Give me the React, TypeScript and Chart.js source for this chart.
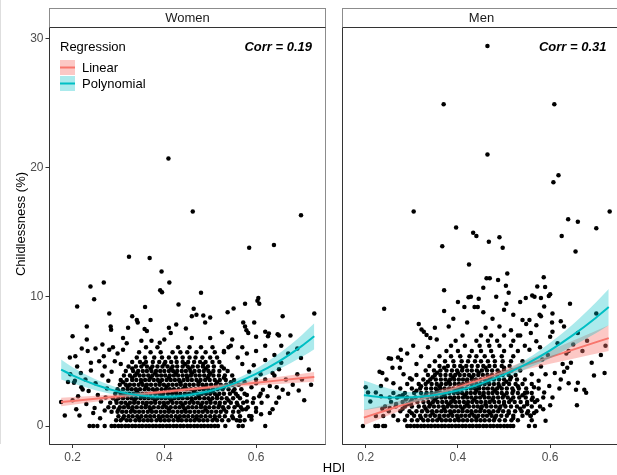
import React, { useEffect, useRef } from "react";
import { Chart, registerables } from "chart.js";
Chart.register(...registerables);

const FONT = "'Liberation Sans', Arial, Helvetica, sans-serif";

// ---------- axes ----------
const xTicks = [0.2, 0.4, 0.6];
const yTicks = [0, 10, 20, 30];
const xRange = [0.1475, 0.7525];
const yRange = [-1.47, 30.87];

// ---------- Women ----------
const womenScatter: [number, number][] = [
  [0.409, 20.7], [0.462, 16.6], [0.698, 16.3], [0.585, 13.8], [0.639, 14.0], [0.323, 13.1], [0.368, 13.0],
  [0.394, 11.95], [0.411, 11.1], [0.239, 10.8], [0.268, 11.1], [0.391, 10.5], [0.395, 10.35], [0.48, 10.3],
  [0.247, 9.8], [0.605, 9.9], [0.603, 9.7], [0.607, 9.45], [0.21, 9.25], [0.431, 9.4], [0.464, 9.07],
  [0.358, 9.2], [0.551, 9.1], [0.576, 9.45], [0.658, 8.5], [0.727, 8.7], [0.28, 8.7], [0.33, 8.5],
  [0.34, 8.2], [0.342, 8.0], [0.37, 8.2], [0.46, 8.5], [0.47, 8.6], [0.485, 8.55], [0.5, 8.4], [0.538, 8.8],
  [0.426, 7.85], [0.489, 8.0], [0.231, 7.7], [0.283, 7.7], [0.284, 7.45], [0.321, 7.6], [0.357, 7.5],
  [0.362, 7.35], [0.41, 7.6], [0.414, 7.2], [0.447, 7.55], [0.526, 7.25], [0.548, 6.7], [0.572, 8.0],
  [0.576, 7.7], [0.579, 7.4], [0.596, 8.0], [0.583, 7.2], [0.6, 6.9], [0.62, 7.3], [0.628, 7.15],
  [0.626, 6.95], [0.2, 6.94], [0.231, 6.7], [0.265, 6.3], [0.233, 5.8], [0.31, 6.8], [0.318, 6.4],
  [0.35, 6.6], [0.372, 6.6], [0.39, 6.45], [0.4, 6.7], [0.46, 6.8], [0.5, 6.8], [0.65, 7.0], [0.675, 7.0],
  [0.698, 5.27], [0.715, 4.37], [0.194, 5.3], [0.206, 5.4], [0.22, 6.0], [0.175, 1.85], [0.183, 0.82],
  [0.215, 0.82], [0.611, 0.9], [0.636, 1.3], [0.644, 1.8], [0.658, 2.8], [0.68, 3.2], [0.693, 2.75],
  [0.67, 5.6], [0.647, 7.1], [0.62, 6.2], [0.65, 4.4], [0.636, 4.1], [0.63, 3.1], [0.665, 3.6],
  [0.607, 2.3], [0.593, 1.8], [0.578, 1.3], [0.585, 0.77],
  [0.222, 2.83], [0.235, 2.7], [0.212, 2.3], [0.219, 3.0], [0.19, 3.4], [0.205, 3.5], [0.195, 4.0],
  [0.203, 3.35], [0.218, 4.1], [0.228, 3.6], [0.24, 4.3], [0.25, 3.3], [0.255, 2.4], [0.262, 1.9],
  [0.248, 1.4], [0.265, 3.9], [0.27, 4.6], [0.275, 2.9], [0.258, 5.0], [0.268, 5.4], [0.28, 5.9],
  [0.285, 4.2], [0.278, 3.5], [0.272, 2.2], [0.288, 6.1], [0.245, 1.0], [0.23, 1.7], [0.208, 1.3],
  [0.2, 2.0], [0.26, 0.6], [0.27, 1.2], [0.292, 5.0], [0.298, 5.6], [0.305, 4.8], [0.31, 5.9], [0.24, 4.9],
  [0.25, 6.0], [0.21, 4.6],
  [0.58, 2.4], [0.59, 3.0], [0.6, 3.6], [0.575, 3.4], [0.585, 4.2], [0.595, 4.7], [0.61, 4.0], [0.62, 3.6],
  [0.615, 2.8], [0.625, 2.3], [0.6, 1.4], [0.612, 1.8], [0.57, 4.8], [0.56, 5.3], [0.58, 5.6], [0.6, 5.8],
  [0.62, 5.1], [0.64, 5.5], [0.655, 4.9], [0.645, 3.0], [0.63, 1.0], [0.65, 2.2], [0.67, 2.5], [0.69, 4.0],
  [0.7, 3.6], [0.72, 3.2], [0.705, 2.0], [0.655, 6.2], [0.69, 6.0], [0.57, 6.1], [0.545, 6.2], [0.53, 5.8],
  [0.565, 0.4], [0.59, 0.5], [0.61, 2.5], [0.6, 3.3], [0.58, 1.9], [0.64, 3.9],
];

const womenCloudRows: [number, number[]][] = [
  [0.45, [0.295, 0.305, 0.318, 0.326, 0.337, 0.346, 0.355, 0.364, 0.372, 0.383, 0.392, 0.401, 0.41, 0.42, 0.43, 0.438, 0.448, 0.457, 0.466, 0.476, 0.485, 0.494, 0.505, 0.515, 0.526, 0.54, 0.558, 0.575]],
  [0.75, [0.3, 0.312, 0.322, 0.331, 0.341, 0.35, 0.36, 0.369, 0.378, 0.388, 0.397, 0.406, 0.415, 0.425, 0.434, 0.443, 0.452, 0.462, 0.471, 0.48, 0.49, 0.5, 0.51, 0.52, 0.532, 0.548, 0.565, 0.59]],
  [1.1, [0.285, 0.298, 0.308, 0.317, 0.327, 0.336, 0.345, 0.354, 0.364, 0.373, 0.382, 0.392, 0.401, 0.41, 0.419, 0.429, 0.438, 0.447, 0.456, 0.466, 0.475, 0.484, 0.494, 0.503, 0.513, 0.523, 0.535, 0.55, 0.562, 0.6]],
  [1.45, [0.278, 0.29, 0.303, 0.312, 0.322, 0.331, 0.34, 0.35, 0.359, 0.368, 0.377, 0.387, 0.396, 0.405, 0.414, 0.424, 0.433, 0.442, 0.452, 0.461, 0.47, 0.48, 0.489, 0.498, 0.508, 0.518, 0.528, 0.54, 0.553, 0.567, 0.582]],
  [1.8, [0.282, 0.296, 0.306, 0.315, 0.325, 0.334, 0.343, 0.353, 0.362, 0.371, 0.38, 0.39, 0.399, 0.408, 0.418, 0.427, 0.436, 0.446, 0.455, 0.464, 0.473, 0.483, 0.492, 0.501, 0.511, 0.521, 0.532, 0.545, 0.558, 0.572]],
  [2.15, [0.288, 0.3, 0.31, 0.32, 0.329, 0.338, 0.348, 0.357, 0.366, 0.375, 0.385, 0.394, 0.403, 0.412, 0.422, 0.431, 0.44, 0.45, 0.459, 0.468, 0.477, 0.487, 0.496, 0.505, 0.515, 0.525, 0.536, 0.55, 0.565, 0.595]],
  [2.5, [0.293, 0.305, 0.315, 0.324, 0.333, 0.343, 0.352, 0.361, 0.37, 0.38, 0.389, 0.398, 0.408, 0.417, 0.426, 0.435, 0.445, 0.454, 0.463, 0.472, 0.482, 0.491, 0.5, 0.51, 0.52, 0.53, 0.543, 0.556, 0.575]],
  [2.85, [0.298, 0.31, 0.32, 0.329, 0.338, 0.347, 0.357, 0.366, 0.375, 0.384, 0.394, 0.403, 0.412, 0.421, 0.431, 0.44, 0.449, 0.458, 0.468, 0.477, 0.486, 0.496, 0.506, 0.516, 0.527, 0.54, 0.553, 0.568]],
  [3.2, [0.303, 0.316, 0.325, 0.334, 0.344, 0.353, 0.362, 0.371, 0.381, 0.39, 0.399, 0.409, 0.418, 0.427, 0.436, 0.446, 0.455, 0.464, 0.474, 0.483, 0.492, 0.502, 0.512, 0.523, 0.535, 0.549, 0.562]],
  [3.55, [0.305, 0.318, 0.33, 0.339, 0.349, 0.358, 0.367, 0.377, 0.386, 0.395, 0.405, 0.414, 0.423, 0.432, 0.442, 0.451, 0.46, 0.47, 0.479, 0.489, 0.499, 0.51, 0.521, 0.534, 0.552]],
  [3.9, [0.312, 0.325, 0.336, 0.346, 0.355, 0.365, 0.374, 0.384, 0.393, 0.402, 0.412, 0.421, 0.43, 0.44, 0.449, 0.458, 0.468, 0.477, 0.487, 0.497, 0.507, 0.519, 0.532, 0.548]],
  [4.25, [0.316, 0.332, 0.343, 0.353, 0.362, 0.372, 0.382, 0.391, 0.4, 0.41, 0.419, 0.428, 0.438, 0.447, 0.457, 0.466, 0.476, 0.486, 0.496, 0.507, 0.52, 0.538]],
  [4.6, [0.322, 0.338, 0.35, 0.362, 0.374, 0.385, 0.396, 0.407, 0.418, 0.428, 0.44, 0.451, 0.462, 0.473, 0.484, 0.495, 0.508, 0.525]],
  [4.95, [0.33, 0.347, 0.36, 0.375, 0.389, 0.402, 0.415, 0.427, 0.44, 0.452, 0.465, 0.478, 0.49, 0.505, 0.52]],
  [5.3, [0.34, 0.358, 0.378, 0.395, 0.41, 0.425, 0.44, 0.455, 0.468, 0.483, 0.5, 0.515]],
  [5.7, [0.345, 0.37, 0.392, 0.418, 0.435, 0.45, 0.47, 0.49, 0.51, 0.53]],
  [6.1, [0.36, 0.385, 0.43, 0.455, 0.48, 0.505, 0.54]],
  // in-between points of the dense mass
  [0.6, [0.31, 0.345, 0.39, 0.43, 0.47, 0.51, 0.55]],
  [1.28, [0.3, 0.33, 0.37, 0.41, 0.445, 0.49, 0.53, 0.57]],
  [1.62, [0.32, 0.36, 0.4, 0.44, 0.48, 0.52, 0.56]],
  [1.98, [0.295, 0.335, 0.38, 0.415, 0.46, 0.5, 0.54]],
  [2.33, [0.31, 0.35, 0.395, 0.435, 0.475, 0.515, 0.56]],
  [2.68, [0.3, 0.34, 0.38, 0.425, 0.465, 0.505, 0.55]],
  [3.03, [0.32, 0.36, 0.405, 0.445, 0.49, 0.53]],
  [3.38, [0.31, 0.35, 0.39, 0.435, 0.475, 0.515, 0.545]],
  [3.73, [0.33, 0.37, 0.41, 0.45, 0.495, 0.53]],
  [4.08, [0.34, 0.38, 0.425, 0.46, 0.5]],
  [4.45, [0.33, 0.37, 0.415, 0.455, 0.49, 0.53]],
  [4.8, [0.355, 0.4, 0.445, 0.485]],
];

const womenZeroX = [0.237, 0.245, 0.254, 0.27, 0.285, 0.292, 0.3, 0.307, 0.315, 0.322, 0.33, 0.337, 0.345, 0.352,
  0.36, 0.367, 0.375, 0.382, 0.39, 0.397, 0.405, 0.412, 0.42, 0.427, 0.435, 0.442, 0.45, 0.457, 0.465, 0.472,
  0.48, 0.487, 0.495, 0.502, 0.51, 0.517, 0.533, 0.562, 0.571, 0.62];

const womenLinX = [0.175, 0.25, 0.35, 0.45, 0.55, 0.65, 0.727];
const womenLinY = [1.85, 2.11, 2.47, 2.82, 3.17, 3.53, 3.8];
const womenLinHalf = [0.33, 0.24, 0.15, 0.13, 0.18, 0.28, 0.38];
const womenPolyX = [0.175, 0.2, 0.25, 0.3, 0.35, 0.4, 0.45, 0.5, 0.55, 0.6, 0.65, 0.7, 0.727];
const womenPolyY = [4.37, 3.92, 3.19, 2.66, 2.35, 2.26, 2.38, 2.71, 3.26, 4.03, 5.0, 6.2, 6.94];
const womenPolyHalf = [0.77, 0.62, 0.42, 0.28, 0.22, 0.2, 0.2, 0.22, 0.28, 0.4, 0.6, 0.85, 1.0];

// ---------- Men ----------
const menScatter: [number, number][] = [
  [0.464, 29.4], [0.369, 24.9], [0.609, 24.9], [0.464, 21.0], [0.618, 19.4], [0.607, 18.85], [0.304, 16.6],
  [0.729, 16.6], [0.639, 16.0], [0.66, 15.8], [0.7, 15.3], [0.625, 14.7], [0.655, 13.5], [0.396, 15.35],
  [0.433, 14.96], [0.44, 14.7], [0.467, 14.26], [0.49, 14.6], [0.497, 13.8], [0.366, 13.9], [0.424, 12.5],
  [0.462, 11.44], [0.469, 11.44], [0.487, 11.3], [0.507, 11.8], [0.504, 10.85], [0.455, 10.7], [0.37, 10.5],
  [0.428, 10.0], [0.445, 9.85], [0.483, 10.0], [0.586, 11.5], [0.572, 10.8], [0.589, 10.75], [0.566, 10.0],
  [0.58, 9.9], [0.597, 10.05],
  [0.24, 9.07], [0.423, 9.97], [0.436, 9.2], [0.443, 9.2], [0.414, 9.2], [0.505, 9.46], [0.5, 9.0],
  [0.54, 8.2], [0.547, 9.9], [0.561, 10.1], [0.6, 10.2], [0.587, 9.25], [0.58, 8.5], [0.577, 8.6],
  [0.555, 8.2], [0.548, 7.9], [0.605, 8.7], [0.623, 8.1], [0.604, 8.0], [0.643, 9.46], [0.7, 8.7],
  [0.558, 7.2], [0.321, 7.46], [0.326, 7.3], [0.332, 7.05], [0.34, 6.8], [0.354, 6.7], [0.276, 5.9],
  [0.27, 5.3], [0.277, 5.1], [0.25, 5.25], [0.255, 5.2], [0.23, 4.2], [0.236, 4.1], [0.29, 5.6],
  [0.303, 6.2], [0.258, 4.5], [0.274, 4.5], [0.296, 3.7], [0.233, 3.1], [0.2, 3.0], [0.205, 2.6],
  [0.222, 2.6], [0.233, 2.3], [0.252, 2.2], [0.266, 1.7], [0.273, 2.3], [0.287, 2.05], [0.298, 1.7],
  [0.222, 0.77], [0.238, 0.77], [0.236, 1.34], [0.252, 1.4], [0.21, 1.9], [0.245, 3.6], [0.26, 3.3],
  [0.282, 4.0], [0.31, 4.8], [0.32, 5.4], [0.335, 6.1], [0.315, 7.9], [0.35, 7.6], [0.38, 7.7], [0.39, 8.3],
  [0.42, 8.0], [0.46, 7.6], [0.475, 8.3], [0.49, 7.7], [0.515, 7.4], [0.52, 8.6], [0.53, 7.0], [0.455, 8.8],
  [0.4, 9.6], [0.37, 8.9], [0.51, 10.3], [0.535, 9.6],
  [0.565, 1.0], [0.558, 0.8], [0.572, 2.0], [0.587, 2.6], [0.598, 3.1], [0.63, 4.2], [0.637, 4.5],
  [0.645, 4.9], [0.627, 4.8], [0.66, 3.34], [0.658, 1.6], [0.656, 2.8], [0.674, 2.8], [0.678, 2.57],
  [0.69, 4.9], [0.718, 4.1], [0.623, 3.6], [0.61, 4.1], [0.67, 5.8], [0.635, 5.6], [0.64, 5.8], [0.583, 5.14],
  [0.595, 5.5], [0.6, 6.9], [0.616, 6.4], [0.605, 7.3], [0.57, 6.55], [0.578, 6.1], [0.59, 4.0], [0.575, 3.5],
  [0.58, 4.6], [0.605, 2.2], [0.62, 2.9], [0.6, 1.6], [0.585, 1.3], [0.59, 0.4], [0.64, 3.3], [0.695, 3.9],
  [0.71, 5.5], [0.72, 6.2], [0.66, 7.2], [0.68, 6.6], [0.65, 6.3], [0.555, 5.9], [0.56, 4.0], [0.565, 3.0],
  [0.55, 2.6], [0.63, 7.7], [0.57, 7.8],
];

const menCloudRows: [number, number[]][] = [
  [0.45, [0.27, 0.285, 0.3, 0.312, 0.325, 0.335, 0.345, 0.355, 0.365, 0.374, 0.383, 0.393, 0.402, 0.411, 0.42, 0.43, 0.44, 0.449, 0.458, 0.468, 0.478, 0.49, 0.502, 0.516, 0.53, 0.56]],
  [0.8, [0.26, 0.29, 0.305, 0.318, 0.33, 0.34, 0.35, 0.36, 0.37, 0.379, 0.388, 0.398, 0.407, 0.416, 0.425, 0.435, 0.444, 0.454, 0.463, 0.473, 0.483, 0.494, 0.506, 0.52, 0.54, 0.557]],
  [1.15, [0.25, 0.275, 0.295, 0.31, 0.322, 0.334, 0.344, 0.354, 0.364, 0.373, 0.383, 0.392, 0.401, 0.41, 0.42, 0.429, 0.439, 0.448, 0.458, 0.467, 0.477, 0.487, 0.498, 0.51, 0.524, 0.538, 0.552, 0.57]],
  [1.5, [0.242, 0.265, 0.285, 0.3, 0.315, 0.327, 0.338, 0.348, 0.358, 0.368, 0.377, 0.387, 0.396, 0.405, 0.415, 0.424, 0.434, 0.443, 0.452, 0.462, 0.472, 0.482, 0.492, 0.503, 0.515, 0.528, 0.543, 0.56, 0.578]],
  [1.85, [0.255, 0.28, 0.297, 0.312, 0.325, 0.336, 0.346, 0.356, 0.366, 0.375, 0.385, 0.394, 0.403, 0.413, 0.422, 0.431, 0.441, 0.45, 0.46, 0.469, 0.479, 0.489, 0.5, 0.511, 0.523, 0.536, 0.55, 0.567]],
  [2.2, [0.268, 0.29, 0.308, 0.322, 0.334, 0.344, 0.354, 0.364, 0.373, 0.383, 0.392, 0.401, 0.411, 0.42, 0.429, 0.439, 0.448, 0.458, 0.467, 0.477, 0.487, 0.497, 0.508, 0.52, 0.533, 0.547, 0.562, 0.585]],
  [2.55, [0.26, 0.285, 0.305, 0.32, 0.332, 0.343, 0.353, 0.362, 0.372, 0.381, 0.391, 0.4, 0.409, 0.419, 0.428, 0.437, 0.447, 0.456, 0.466, 0.475, 0.485, 0.495, 0.506, 0.518, 0.53, 0.545, 0.56]],
  [2.9, [0.275, 0.3, 0.318, 0.331, 0.342, 0.352, 0.362, 0.371, 0.381, 0.39, 0.4, 0.409, 0.418, 0.428, 0.437, 0.446, 0.456, 0.465, 0.475, 0.485, 0.495, 0.506, 0.518, 0.532, 0.548, 0.575]],
  [3.25, [0.29, 0.315, 0.33, 0.343, 0.354, 0.364, 0.374, 0.383, 0.393, 0.402, 0.411, 0.421, 0.43, 0.44, 0.449, 0.458, 0.468, 0.478, 0.488, 0.499, 0.511, 0.525, 0.54, 0.56]],
  [3.6, [0.3, 0.325, 0.34, 0.352, 0.363, 0.373, 0.383, 0.392, 0.402, 0.411, 0.42, 0.43, 0.439, 0.449, 0.458, 0.468, 0.478, 0.489, 0.5, 0.513, 0.528, 0.545]],
  [3.95, [0.31, 0.335, 0.35, 0.362, 0.373, 0.384, 0.394, 0.404, 0.414, 0.424, 0.434, 0.444, 0.454, 0.464, 0.474, 0.485, 0.497, 0.51, 0.525]],
  [4.3, [0.33, 0.348, 0.362, 0.375, 0.387, 0.398, 0.409, 0.42, 0.43, 0.441, 0.452, 0.463, 0.474, 0.486, 0.5, 0.516, 0.535]],
  [4.65, [0.338, 0.36, 0.378, 0.392, 0.405, 0.418, 0.43, 0.443, 0.455, 0.468, 0.48, 0.495, 0.512]],
  [5.0, [0.35, 0.372, 0.39, 0.408, 0.422, 0.437, 0.45, 0.465, 0.48, 0.497, 0.515, 0.54]],
  [5.4, [0.36, 0.385, 0.405, 0.425, 0.44, 0.458, 0.476, 0.495, 0.52]],
  [5.8, [0.375, 0.4, 0.43, 0.45, 0.472, 0.5, 0.53]],
  [6.2, [0.385, 0.415, 0.447, 0.468, 0.49, 0.515, 0.545]],
  [6.6, [0.395, 0.44, 0.465, 0.485, 0.52]],
  [7.0, [0.41, 0.45, 0.472, 0.5, 0.535]],
  // in-between points of the dense mass
  [0.62, [0.32, 0.36, 0.4, 0.44, 0.48, 0.52]],
  [0.98, [0.3, 0.345, 0.385, 0.43, 0.47, 0.51, 0.55]],
  [1.33, [0.28, 0.33, 0.37, 0.41, 0.45, 0.49, 0.535]],
  [1.68, [0.29, 0.34, 0.38, 0.42, 0.46, 0.5, 0.55]],
  [2.03, [0.3, 0.35, 0.39, 0.435, 0.475, 0.515, 0.56]],
  [2.38, [0.28, 0.33, 0.37, 0.415, 0.455, 0.5, 0.54]],
  [2.73, [0.31, 0.355, 0.395, 0.44, 0.48, 0.52]],
  [3.08, [0.32, 0.36, 0.405, 0.445, 0.49, 0.53]],
  [3.43, [0.335, 0.38, 0.42, 0.465, 0.505]],
  [3.78, [0.345, 0.39, 0.43, 0.47, 0.515]],
  [4.12, [0.355, 0.4, 0.445, 0.49]],
  [4.5, [0.37, 0.41, 0.46, 0.5]],
];

const menZeroX = [0.194, 0.221, 0.227, 0.238, 0.242, 0.29, 0.297, 0.305, 0.312, 0.32, 0.327, 0.335, 0.342,
  0.35, 0.357, 0.365, 0.372, 0.38, 0.387, 0.395, 0.402, 0.41, 0.417, 0.425, 0.432, 0.44, 0.447, 0.455, 0.462,
  0.47, 0.477, 0.485, 0.492, 0.5, 0.507, 0.514, 0.52, 0.554, 0.567];

const menLinX = [0.196, 0.25, 0.35, 0.45, 0.55, 0.65, 0.727];
const menLinY = [0.65, 1.28, 2.43, 3.59, 4.75, 5.91, 6.8];
const menLinHalf = [0.6, 0.45, 0.25, 0.22, 0.35, 0.7, 1.0];
const menPolyX = [0.196, 0.25, 0.3, 0.35, 0.4, 0.45, 0.5, 0.55, 0.6, 0.65, 0.7, 0.727];
const menPolyY = [2.37, 2.2, 2.22, 2.4, 2.74, 3.28, 3.97, 4.82, 5.85, 7.05, 8.4, 9.2];
const menPolyHalf = [1.15, 0.7, 0.4, 0.28, 0.25, 0.25, 0.28, 0.38, 0.6, 0.85, 1.2, 1.4];

const RED = "#F8766D";
const TEAL = "#00BFC4";
const RED_FILL = "rgba(248,118,109,0.4)";
const TEAL_FILL = "rgba(0,191,196,0.33)";

type PanelData = {
  scatter: [number, number][];
  rows: [number, number[]][];
  zeros: number[];
  linX: number[]; linY: number[]; linHalf: number[];
  polyX: number[]; polyY: number[]; polyHalf: number[];
};

function buildDatasets(d: PanelData): any[] {
  const pts = [
    ...d.scatter.map(([x, y]) => ({ x, y })),
    ...d.rows.flatMap(([y, xs]) => xs.map((x) => ({ x, y }))),
    ...d.zeros.map((x) => ({ x, y: 0 })),
  ];
  const mk = (xs: number[], ys: number[]) => xs.map((x, i) => ({ x, y: ys[i] }));
  const lo = (ys: number[], h: number[]) => ys.map((v, i) => v - h[i]);
  const hi = (ys: number[], h: number[]) => ys.map((v, i) => v + h[i]);
  const lineBase = { type: "line", pointRadius: 0, cubicInterpolationMode: "monotone", showLine: true };
  return [
    { type: "scatter", data: pts, backgroundColor: "#000", borderWidth: 0, pointRadius: 2.25, order: 10 },
    { ...lineBase, data: mk(d.linX, lo(d.linY, d.linHalf)), borderWidth: 0, fill: false, order: 4 },
    { ...lineBase, data: mk(d.linX, hi(d.linY, d.linHalf)), borderWidth: 0, fill: "-1", backgroundColor: RED_FILL, order: 4 },
    { ...lineBase, data: mk(d.linX, d.linY), borderColor: RED, borderWidth: 2, fill: false, order: 3 },
    { ...lineBase, data: mk(d.polyX, lo(d.polyY, d.polyHalf)), borderWidth: 0, fill: false, order: 2 },
    { ...lineBase, data: mk(d.polyX, hi(d.polyY, d.polyHalf)), borderWidth: 0, fill: "-1", backgroundColor: TEAL_FILL, order: 2 },
    { ...lineBase, data: mk(d.polyX, d.polyY), borderColor: TEAL, borderWidth: 2, fill: false, order: 1 },
  ];
}

const decorPlugin = {
  id: "decor",
  afterDraw(chart: any, _a: any, opts: any) {
    const { ctx, chartArea: a } = chart;
    const L = Math.round(a.left) + 0.5;
    const R = Math.round(a.right) - 0.5;
    const T = Math.round(a.top) + 0.5;
    const B = Math.round(a.bottom) - 0.5;
    ctx.save();
    // panel border
    ctx.lineWidth = 1;
    ctx.strokeStyle = "#8c8c8c";
    ctx.strokeRect(L, T, R - L, B - T);
    ctx.strokeStyle = "#333";
    ctx.beginPath();
    ctx.moveTo(L, T);
    ctx.lineTo(L, B);
    ctx.lineTo(R, B);
    ctx.stroke();
    // strip
    const sTop = 8.5;
    ctx.fillStyle = "#fff";
    ctx.fillRect(L, sTop, R - L, T - sTop);
    ctx.strokeStyle = "#8c8c8c";
    ctx.strokeRect(L, sTop, R - L, T - sTop);
    ctx.strokeStyle = "#333";
    ctx.beginPath();
    ctx.moveTo(L, T);
    ctx.lineTo(R, T);
    ctx.stroke();
    ctx.fillStyle = "#1a1a1a";
    ctx.font = `13px ${FONT}`;
    ctx.textAlign = "center";
    ctx.textBaseline = "middle";
    ctx.fillText(opts.strip, (L + R) / 2, (sTop + T) / 2 + 0.5);
    // corr
    ctx.fillStyle = "#000";
    ctx.font = `italic bold 13px ${FONT}`;
    ctx.textAlign = "right";
    ctx.fillText(opts.corr, a.right - 14, 47);
    if (opts.legend) {
      ctx.textAlign = "left";
      ctx.font = `13px ${FONT}`;
      ctx.fillText("Regression", 60, 47);
      const keys = [
        { label: "Linear", fill: RED_FILL, col: RED, y: 60 },
        { label: "Polynomial", fill: TEAL_FILL, col: TEAL, y: 76 },
      ];
      keys.forEach((k) => {
        ctx.fillStyle = k.fill;
        ctx.fillRect(60, k.y, 15, 15);
        ctx.strokeStyle = k.col;
        ctx.lineWidth = 2;
        ctx.beginPath();
        ctx.moveTo(60, k.y + 7.5);
        ctx.lineTo(75, k.y + 7.5);
        ctx.stroke();
        ctx.fillStyle = "#000";
        ctx.fillText(k.label, 82, k.y + 8);
      });
    }
    if (opts.yTitle) {
      ctx.save();
      ctx.translate(21, 224);
      ctx.rotate(-Math.PI / 2);
      ctx.textAlign = "center";
      ctx.textBaseline = "middle";
      ctx.font = `13px ${FONT}`;
      ctx.fillStyle = "#000";
      ctx.fillText("Childlessness (%)", 0, 0);
      ctx.restore();
    }
    ctx.restore();
  },
};

function Panel(props: {
  data: PanelData; strip: string; corr: string; first: boolean;
  left: number; width: number; padLeft: number; padRight: number;
}) {
  const ref = useRef<HTMLCanvasElement>(null);
  useEffect(() => {
    const first = props.first;
    const chart = new Chart(ref.current as HTMLCanvasElement, {
      type: "scatter",
      data: { datasets: buildDatasets(props.data) as any },
      plugins: [decorPlugin as any],
      options: {
        animation: false,
        responsive: false,
        events: [],
        layout: { padding: { left: props.padLeft, right: props.padRight, top: 27, bottom: 0 } },
        plugins: {
          legend: { display: false },
          tooltip: { enabled: false },
          decor: { strip: props.strip, corr: props.corr, legend: first, yTitle: first },
        } as any,
        scales: {
          x: {
            type: "linear",
            min: xRange[0],
            max: xRange[1],
            afterBuildTicks: (s: any) => { s.ticks = xTicks.map((v) => ({ value: v })); },
            afterFit: (s: any) => { s.height = 30; },
            grid: { display: true, drawOnChartArea: false, drawTicks: true, tickLength: 3, color: "#333" },
            border: { display: false },
            ticks: { color: "#4d4d4d", font: { family: FONT, size: 12 }, padding: 2, callback: (v: any) => Number(v).toFixed(1) },
          },
          y: {
            type: "linear",
            display: first,
            min: yRange[0],
            max: yRange[1],
            afterBuildTicks: (s: any) => { s.ticks = yTicks.map((v) => ({ value: v })); },
            afterFit: (s: any) => { s.width = first ? 48.5 : 0; },
            grid: { display: true, drawOnChartArea: false, drawTicks: true, tickLength: 3, color: "#333" },
            border: { display: false },
            ticks: { color: "#4d4d4d", font: { family: FONT, size: 12 }, padding: 2, callback: (v: any) => String(v) },
          },
        },
      } as any,
    });
    return () => chart.destroy();
  }, []);
  return (
    <canvas
      ref={ref}
      width={props.width}
      height={475}
      style={{ position: "absolute", left: props.left, top: 0, width: props.width, height: 475 }}
    />
  );
}

const womenData: PanelData = {
  scatter: womenScatter, rows: womenCloudRows, zeros: womenZeroX,
  linX: womenLinX, linY: womenLinY, linHalf: womenLinHalf,
  polyX: womenPolyX, polyY: womenPolyY, polyHalf: womenPolyHalf,
};
const menData: PanelData = {
  scatter: menScatter, rows: menCloudRows, zeros: menZeroX,
  linX: menLinX, linY: menLinY, linHalf: menLinHalf,
  polyX: menPolyX, polyY: menPolyY, polyHalf: menPolyHalf,
};

export default function App() {
  return (
    <div style={{ position: "fixed", left: 0, top: 0, width: 617, height: 475, overflow: "hidden", background: "#fff" }}>
      <div style={{ position: "absolute", left: 0, top: 0, width: 1, height: 444, background: "#dedede" }} />
      <Panel data={womenData} strip="Women" corr="Corr = 0.19" first={true} left={0} width={330} padLeft={0} padRight={2.5} />
      <Panel data={menData} strip="Men" corr="Corr = 0.31" first={false} left={335} width={290} padLeft={6.5} padRight={4.5} />
      <div style={{ position: "absolute", left: 0, top: 460, width: 668, textAlign: "center", font: `13px ${FONT}`, lineHeight: "16px", color: "#000" }}>HDI</div>
    </div>
  );
}
